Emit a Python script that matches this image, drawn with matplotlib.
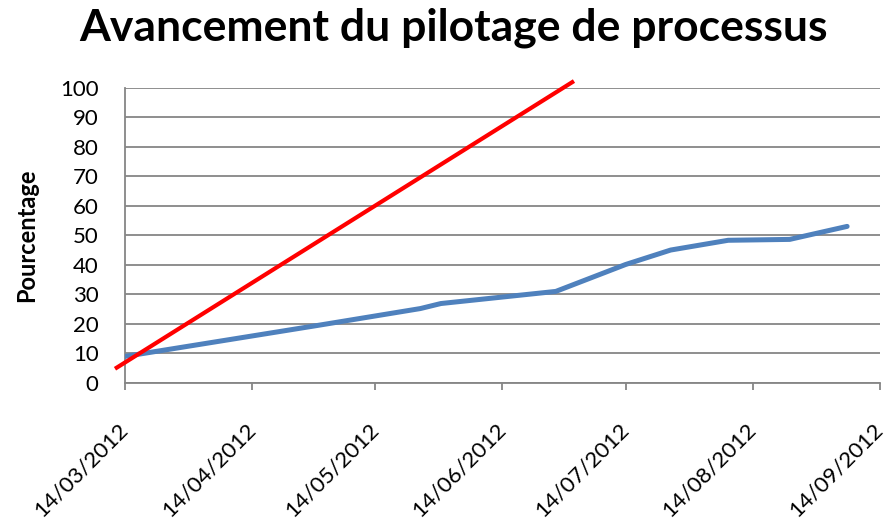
import numpy as np
import pandas as pd
import matplotlib
matplotlib.use('Agg')
import matplotlib.pyplot as plt
import matplotlib.dates as mdates

plt.rcParams['font.family'] = ['Lato', 'DejaVu Sans']

# ==================== data ====================
actual_dates = ['2012-03-14', '2012-04-30', '2012-05-25', '2012-05-30', '2012-06-27',
                '2012-07-14', '2012-07-25', '2012-08-08', '2012-08-23', '2012-09-06']
actual_pct = [9, 19.5, 25.2, 26.9, 31.0, 40.1, 45.0, 48.3, 48.6, 53.0]

target_dates = ['2012-03-12', '2012-07-01']
target_pct = [5.2, 101.8]

tick_dates = ['2012-03-14', '2012-04-14', '2012-05-14', '2012-06-14',
              '2012-07-14', '2012-08-14', '2012-09-14']

actual_dates = pd.to_datetime(actual_dates)
target_dates = pd.to_datetime(target_dates)
tick_dates = pd.to_datetime(tick_dates)

# ==================== figure ====================
fig = plt.figure(figsize=(8.9, 5.19), dpi=100)
ax = fig.add_axes([0.1404, 0.262, 0.8483, 0.5694])

grid_col = '#868686'
ax.plot(actual_dates, actual_pct, color='#4F81BD', linewidth=3.6,
        solid_capstyle='round', solid_joinstyle='round', zorder=3)
ax.plot(target_dates, target_pct, color='#FF0000', linewidth=3.0,
        clip_on=False, zorder=4)

ax.set_xlim(tick_dates[0], tick_dates[-1])
ax.set_ylim(0, 100)
ax.set_yticks(np.arange(0, 101, 10))
ax.set_xticks(tick_dates)
ax.xaxis.set_major_formatter(mdates.DateFormatter('%d/%m/%Y'))

ax.grid(axis='y', color=grid_col, linewidth=1.3)
ax.set_axisbelow(True)
for side in ['top', 'right']:
    ax.spines[side].set_visible(False)
for side in ['left', 'bottom']:
    ax.spines[side].set_color(grid_col)
    ax.spines[side].set_linewidth(1.3)

ax.tick_params(axis='y', length=0, pad=19, labelsize=16)
ax.tick_params(axis='x', length=5, width=1.3, color=grid_col, pad=26, labelsize=16)
for lab in ax.get_xticklabels():
    lab.set_rotation(45)
    lab.set_ha('right')
    lab.set_va('center')
    lab.set_rotation_mode('anchor')

ax.set_ylabel('Pourcentage', fontsize=17, fontweight='bold', labelpad=16)
fig.suptitle('Avancement du pilotage de processus', fontsize=32,
             fontweight='bold', x=0.509, y=0.985)

plt.savefig('out.png', dpi=100)
